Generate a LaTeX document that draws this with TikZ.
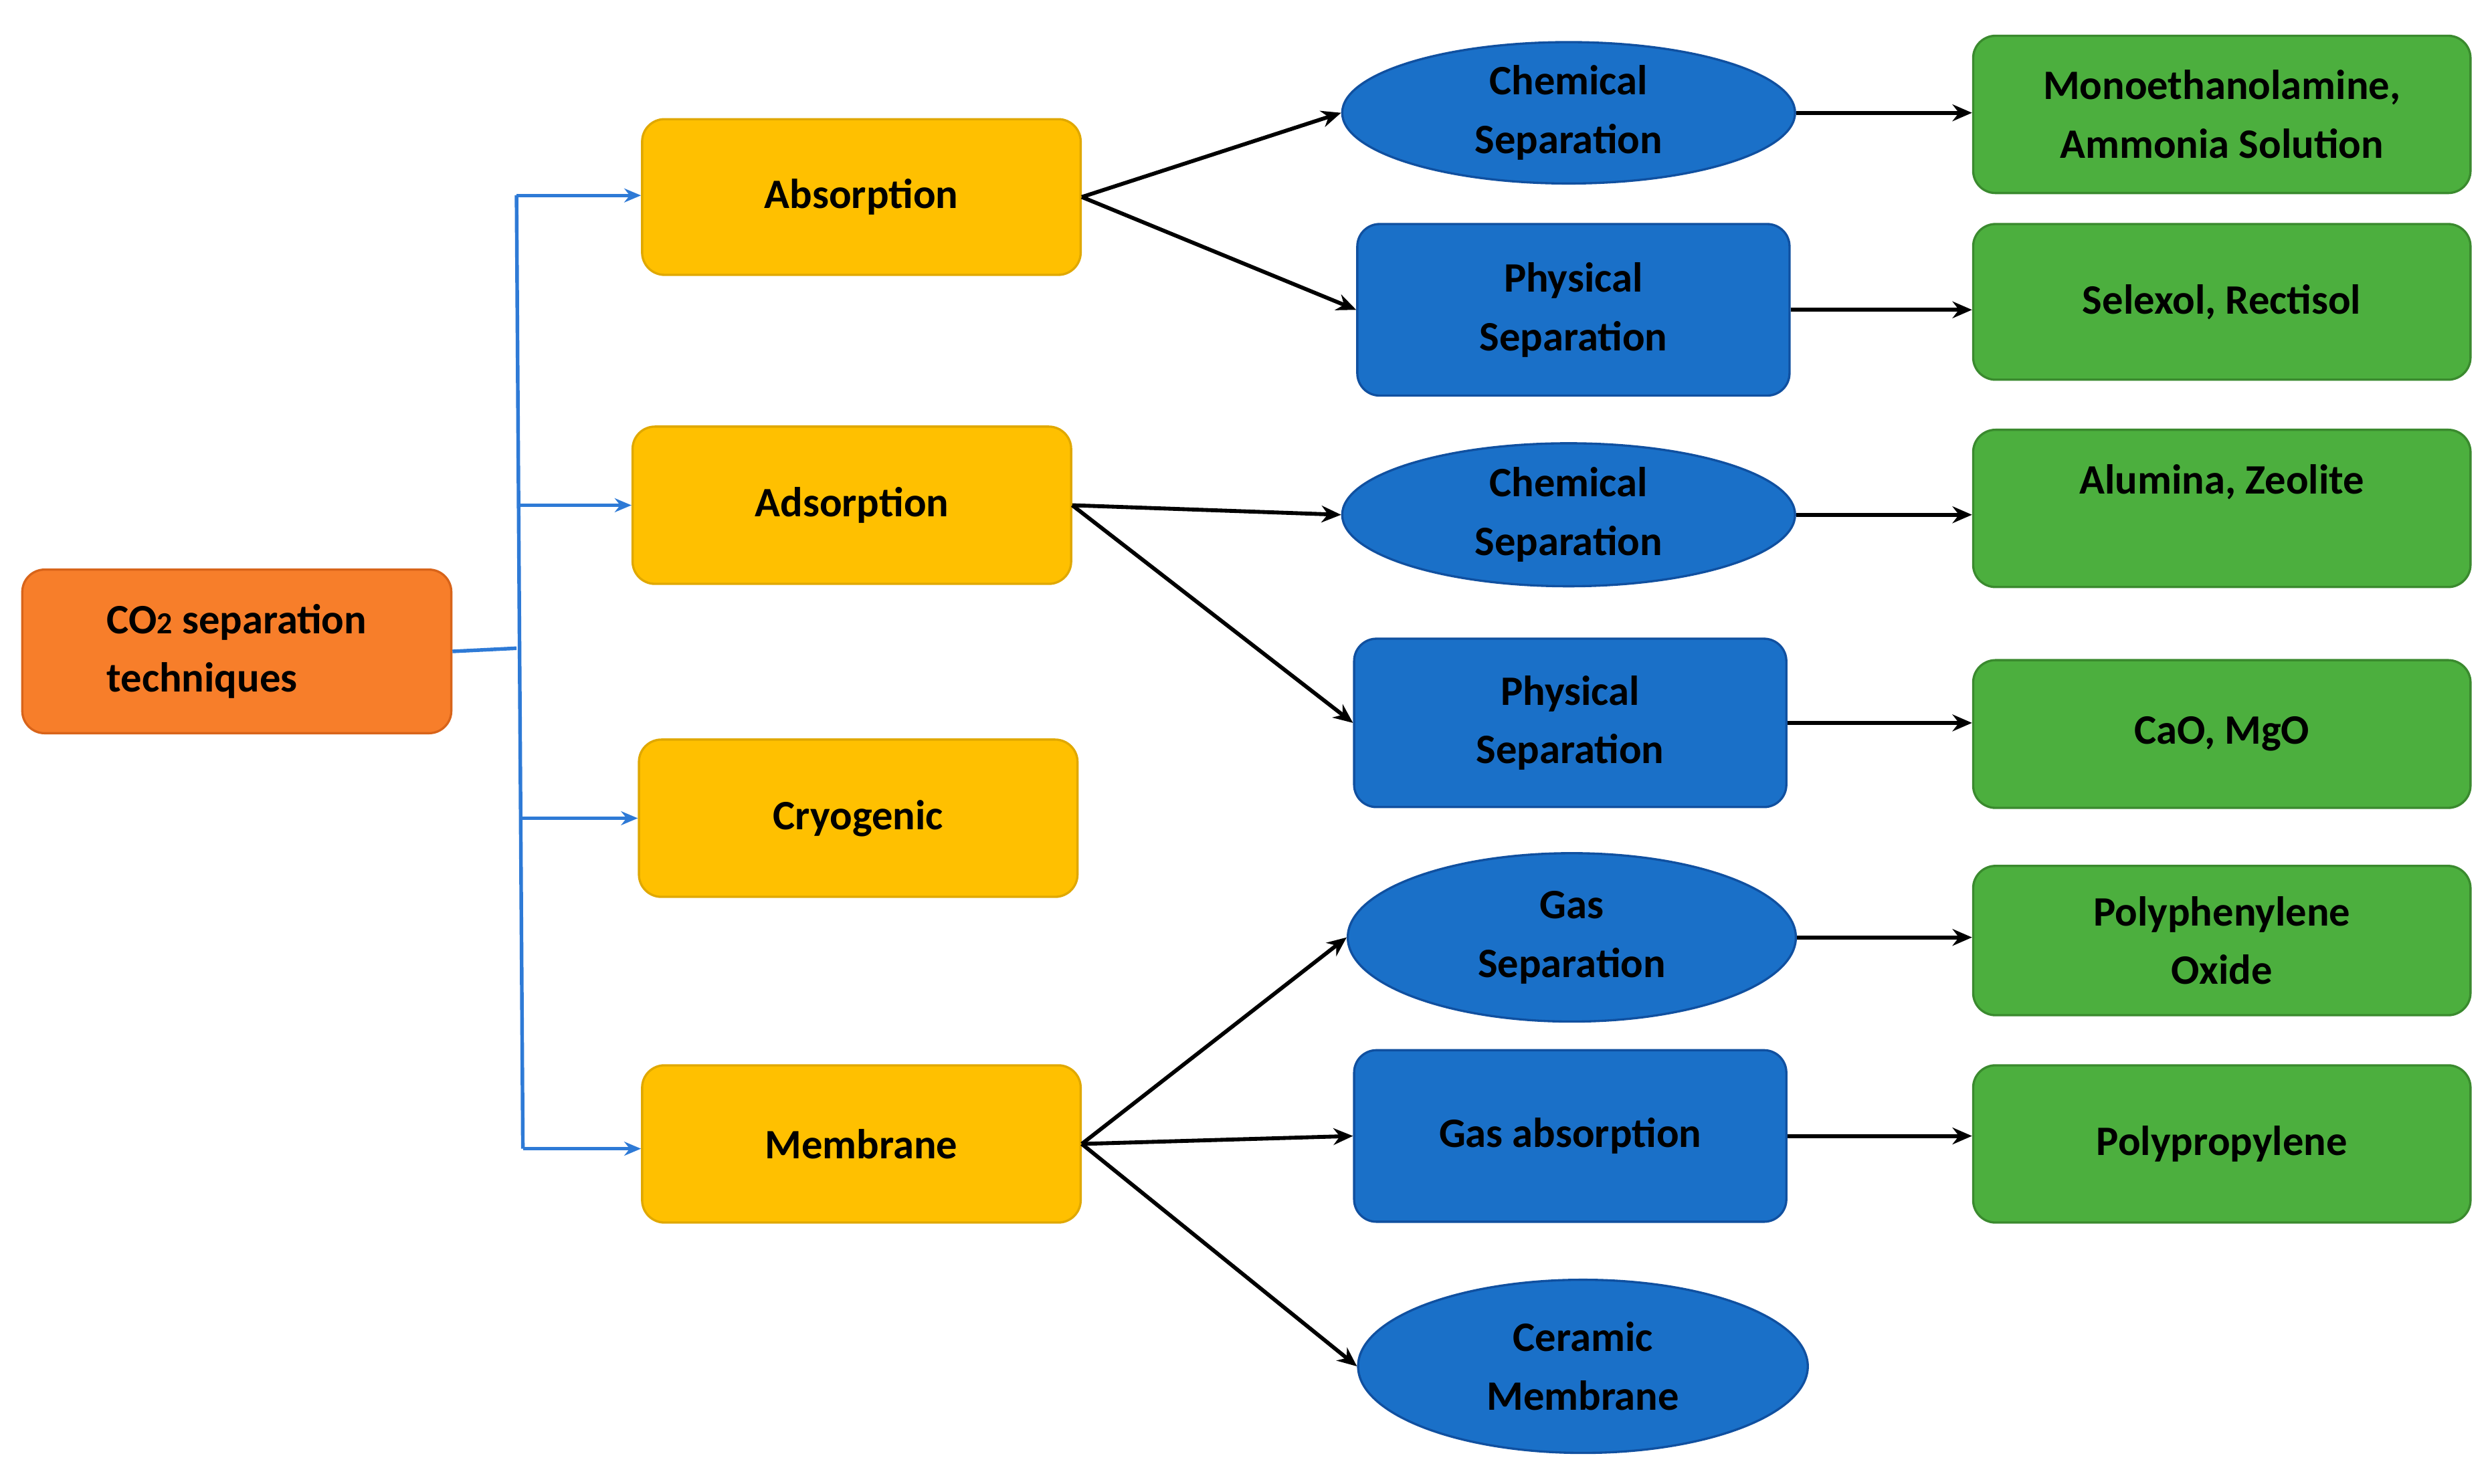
\documentclass[tikz,border=0pt]{standalone}
\usepackage{fontspec}
\setmainfont{Carlito}
\usetikzlibrary{shapes.geometric,arrows.meta}
\begin{document}
\begin{tikzpicture}[x=0.02cm,y=-0.02cm,
  every node/.style={font=\fontsize{15}{21}\selectfont\bfseries,align=center,inner sep=0pt},
  box/.style={draw,rounded corners=8pt,line width=0.8pt},
  yel/.style={box,fill=yelF,draw=yelD},
  blu/.style={box,fill=bluF,draw=bluD},
  grn/.style={box,fill=grnF,draw=grnD},
  ell/.style={ellipse,fill=bluF,draw=bluD,line width=0.8pt},
  bl/.style={draw=trunk,line width=1.3pt},
  blarr/.style={bl,-{Stealth[length=6pt,width=5pt]}},
  arr/.style={line width=1.4pt,-{Stealth[length=7pt,width=6pt]}}]
\definecolor{yelF}{HTML}{FFC000}\definecolor{yelD}{HTML}{E0A800}
\definecolor{bluF}{HTML}{1A70C8}\definecolor{bluD}{HTML}{1050A0}
\definecolor{grnF}{HTML}{4CAF3E}\definecolor{grnD}{HTML}{3A8A2E}
\definecolor{oraF}{HTML}{F77E2A}\definecolor{oraD}{HTML}{D8641A}
\definecolor{trunk}{HTML}{2E7AD6}
\useasboundingbox (0,0) rectangle (1568,934);
\node[box,fill=oraF,draw=oraD,minimum width=5.4cm,minimum height=2.06cm,align=left] (co2) at (149,410) {CO{\fontsize{11}{11}\selectfont 2} separation\\techniques};
\node[yel,minimum width=5.52cm,minimum height=1.96cm] (abs) at (542,124) {Absorption};
\node[yel,minimum width=5.52cm,minimum height=1.98cm] (ads) at (536,318) {Adsorption};
\node[yel,minimum width=5.52cm,minimum height=1.98cm] (cryo) at (540,515) {Cryogenic};
\node[yel,minimum width=5.52cm,minimum height=1.98cm] (mem) at (542,720) {Membrane};
\node[ell,minimum width=5.7cm,minimum height=1.78cm] (ce1) at (987,71) {Chemical\\Separation};
\node[blu,minimum width=5.44cm,minimum height=2.16cm] (pr1) at (990,195) {Physical\\Separation};
\node[ell,minimum width=5.7cm,minimum height=1.8cm] (ce2) at (987,324) {Chemical\\Separation};
\node[blu,minimum width=5.44cm,minimum height=2.12cm] (pr2) at (988,455) {Physical\\Separation};
\node[ell,minimum width=5.64cm,minimum height=2.12cm] (gs) at (989,590) {Gas\\Separation};
\node[blu,minimum width=5.44cm,minimum height=2.16cm] (ga) at (988,715) {Gas absorption};
\node[ell,minimum width=5.66cm,minimum height=2.18cm] (cm) at (996,860) {Ceramic\\Membrane};
\node[grn,minimum width=6.26cm,minimum height=1.98cm] (g1) at (1398,72) {Monoethanolamine,\\Ammonia Solution};
\node[grn,minimum width=6.26cm,minimum height=1.96cm] (g2) at (1398,190) {Selexol, Rectisol};
\node[grn,minimum width=6.26cm,minimum height=1.98cm] (g3) at (1398,320) {Alumina, Zeolite\\\phantom{X}};
\node[grn,minimum width=6.26cm,minimum height=1.86cm] (g4) at (1398,462) {CaO, MgO};
\node[grn,minimum width=6.26cm,minimum height=1.88cm] (g5) at (1398,592) {Polyphenylene\\Oxide};
\node[grn,minimum width=6.26cm,minimum height=1.98cm] (g6) at (1398,720) {Polypropylene};
\coordinate (t0) at (325,408);
\coordinate (ta) at (325,123);
\coordinate (tm) at (329,723);
\draw[bl] (co2.east) -- (t0);
\draw[bl] (ta) -- (tm);
\draw[blarr] (ta) -- (abs.west|-ta);
\draw[blarr] (ads.west-|326,0) -- (ads.west);
\draw[blarr] (cryo.west-|327,0) -- (cryo.west);
\draw[blarr] (tm) -- (mem.west|-tm);
\draw[arr] (abs.east) -- (ce1.west);
\draw[arr] (abs.east) -- (pr1.west);
\draw[arr] (ads.east) -- (ce2.west);
\draw[arr] (ads.east) -- (pr2.west);
\draw[arr] (mem.east) -- (gs.west);
\draw[arr] (mem.east) -- (ga.west);
\draw[arr] (mem.east) -- (cm.west);
\draw[arr] (ce1.east) -- (g1.west|-ce1.east);
\draw[arr] (pr1.east) -- (g2.west|-pr1.east);
\draw[arr] (ce2.east) -- (g3.west|-ce2.east);
\draw[arr] (pr2.east) -- (g4.west|-pr2.east);
\draw[arr] (gs.east) -- (g5.west|-gs.east);
\draw[arr] (ga.east) -- (g6.west|-ga.east);
\end{tikzpicture}
\end{document}
